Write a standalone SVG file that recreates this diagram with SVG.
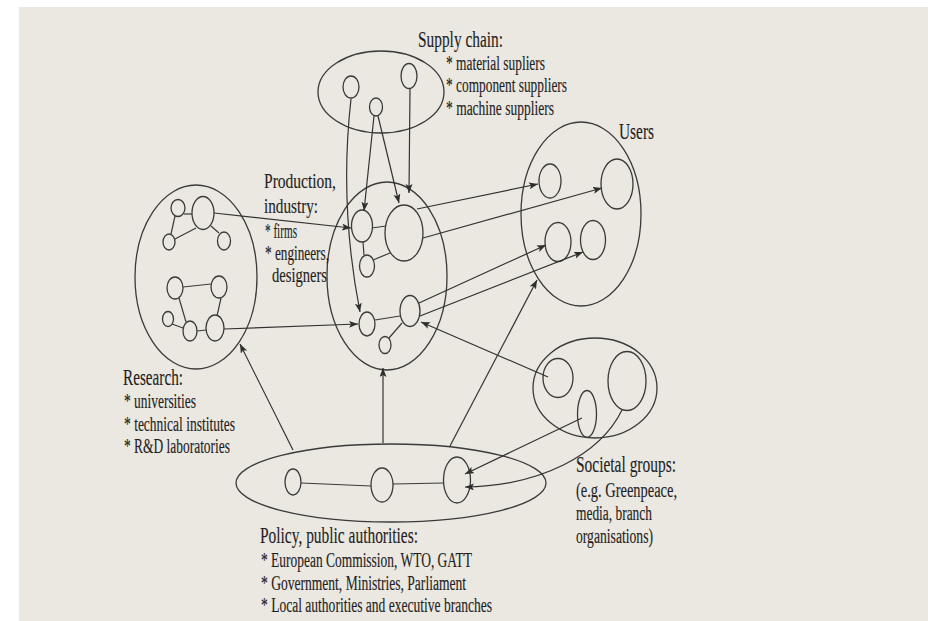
<svg xmlns="http://www.w3.org/2000/svg" width="928" height="621" viewBox="0 0 928 621">
  <defs>
    <marker id="arrow" markerUnits="userSpaceOnUse" markerWidth="10" markerHeight="8" refX="9" refY="3.5" orient="auto">
      <path d="M0,0 L9,3.5 L0,7 L2,3.5 z" fill="#2e2e2e"/>
    </marker>
  </defs>
  <style>
    .grp { fill: none; stroke: #3a3a3a; stroke-width: 1.3; }
    .nd { fill: none; stroke: #3a3a3a; stroke-width: 1.3; }
    .ln { fill: none; stroke: #3a3a3a; stroke-width: 1.2; }
    .ar { fill: none; stroke: #333; stroke-width: 1.2; marker-end: url(#arrow); }
    text { font-family: "Liberation Serif", "Times New Roman", serif; fill: #1f1f1f; stroke: #1f1f1f; stroke-width: 0.15; }
    .hd { font-size: 24px; }
    .hs { font-size: 21px; }
    .it { font-size: 20.5px; }
  </style>

  <!-- page -->
  <rect x="0" y="0" width="928" height="621" fill="#ffffff"/>
  <rect x="19" y="7" width="909" height="614" fill="#ebe8e1"/>

  <!-- Supply chain -->
  <g id="supply">
    <ellipse class="grp" cx="381" cy="92" rx="63" ry="41"/>
    <ellipse class="nd" cx="351" cy="87" rx="8" ry="11"/>
    <ellipse class="nd" cx="376" cy="107" rx="6.5" ry="9"/>
    <ellipse class="nd" cx="409" cy="76" rx="8" ry="12.5"/>
    <text class="hd" x="418" y="47" textLength="85" lengthAdjust="spacingAndGlyphs">Supply chain:</text>
    <text class="it" x="446" y="70" textLength="99" lengthAdjust="spacingAndGlyphs">* material supliers</text>
    <text class="it" x="446" y="92" textLength="121" lengthAdjust="spacingAndGlyphs">* component suppliers</text>
    <text class="it" x="446" y="115" textLength="108" lengthAdjust="spacingAndGlyphs">* machine suppliers</text>
  </g>

  <!-- Users -->
  <g id="users">
    <ellipse class="grp" cx="581" cy="214" rx="60" ry="92"/>
    <ellipse class="nd" cx="550" cy="181" rx="11" ry="17"/>
    <ellipse class="nd" cx="617" cy="184" rx="16" ry="25"/>
    <ellipse class="nd" cx="558" cy="242" rx="13" ry="19.5"/>
    <ellipse class="nd" cx="593" cy="240" rx="12.5" ry="19.5"/>
    <text class="hd" x="619" y="139" textLength="35" lengthAdjust="spacingAndGlyphs">Users</text>
  </g>

  <!-- Production, industry -->
  <g id="production">
    <ellipse class="grp" cx="387" cy="276" rx="60" ry="94"/>
    <line class="ln" x1="372" y1="228" x2="386" y2="226"/>
    <line class="ln" x1="363" y1="242" x2="364" y2="255"/>
    <line class="ln" x1="373" y1="260" x2="390" y2="253"/>
    <line class="ln" x1="375" y1="320" x2="400" y2="316"/>
    <line class="ln" x1="402" y1="323" x2="389" y2="338"/>
    <ellipse class="nd" cx="362" cy="226" rx="10.5" ry="16"/>
    <ellipse class="nd" cx="404" cy="233" rx="19" ry="28"/>
    <ellipse class="nd" cx="367" cy="266" rx="7.5" ry="11"/>
    <ellipse class="nd" cx="367" cy="324" rx="8" ry="12"/>
    <ellipse class="nd" cx="410" cy="311" rx="10" ry="15.5"/>
    <ellipse class="nd" cx="385" cy="345" rx="6" ry="8.5"/>
    <text class="hs" x="264" y="188" textLength="72" lengthAdjust="spacingAndGlyphs">Production,</text>
    <text class="hs" x="264" y="213" textLength="54" lengthAdjust="spacingAndGlyphs">industry:</text>
    <text class="it" x="265" y="238" textLength="32" lengthAdjust="spacingAndGlyphs">* firms</text>
    <text class="it" x="265" y="260" textLength="64" lengthAdjust="spacingAndGlyphs">* engineers,</text>
    <text class="it" x="272" y="282" textLength="55" lengthAdjust="spacingAndGlyphs">designers</text>
  </g>

  <!-- Research -->
  <g id="research">
    <ellipse class="grp" cx="196" cy="277" rx="61" ry="92"/>
    <line class="ln" x1="184" y1="214" x2="192" y2="214"/>
    <line class="ln" x1="175" y1="216" x2="171" y2="234"/>
    <line class="ln" x1="175" y1="239" x2="196" y2="228"/>
    <line class="ln" x1="211" y1="226" x2="219" y2="233"/>
    <line class="ln" x1="183" y1="287" x2="211" y2="284"/>
    <line class="ln" x1="179" y1="298" x2="186" y2="322"/>
    <line class="ln" x1="172" y1="324" x2="183" y2="328"/>
    <line class="ln" x1="197" y1="331" x2="206" y2="330"/>
    <line class="ln" x1="217" y1="316" x2="221" y2="298"/>
    <ellipse class="nd" cx="178" cy="208" rx="7" ry="8.5"/>
    <ellipse class="nd" cx="203" cy="213" rx="11" ry="16.5"/>
    <ellipse class="nd" cx="169" cy="242" rx="6" ry="8"/>
    <ellipse class="nd" cx="224" cy="241" rx="6.5" ry="9"/>
    <ellipse class="nd" cx="175" cy="288" rx="8" ry="11"/>
    <ellipse class="nd" cx="219" cy="287" rx="8" ry="11"/>
    <ellipse class="nd" cx="168" cy="319" rx="5.5" ry="7.5"/>
    <ellipse class="nd" cx="190" cy="331" rx="7" ry="10"/>
    <ellipse class="nd" cx="215" cy="328" rx="9" ry="13"/>
    <text class="hd" x="123" y="385" textLength="60" lengthAdjust="spacingAndGlyphs">Research:</text>
    <text class="it" x="124" y="408" textLength="72" lengthAdjust="spacingAndGlyphs">* universities</text>
    <text class="it" x="124" y="431" textLength="111" lengthAdjust="spacingAndGlyphs">* technical institutes</text>
    <text class="it" x="124" y="453" textLength="106" lengthAdjust="spacingAndGlyphs">* R&amp;D laboratories</text>
  </g>

  <!-- Societal groups -->
  <g id="societal">
    <ellipse class="grp" cx="595" cy="388" rx="62" ry="50"/>
    <ellipse class="nd" cx="558" cy="378" rx="15" ry="19.5"/>
    <ellipse class="nd" cx="627" cy="381" rx="19" ry="29.5"/>
    <ellipse class="nd" cx="587" cy="414" rx="9.5" ry="23.5"/>
    <text class="hd" x="576" y="472" textLength="100" lengthAdjust="spacingAndGlyphs">Societal groups:</text>
    <text class="it" x="576" y="497" textLength="101" lengthAdjust="spacingAndGlyphs">(e.g. Greenpeace,</text>
    <text class="it" x="576" y="520" textLength="76" lengthAdjust="spacingAndGlyphs">media, branch</text>
    <text class="it" x="576" y="543" textLength="77" lengthAdjust="spacingAndGlyphs">organisations)</text>
  </g>

  <!-- Policy, public authorities -->
  <g id="policy">
    <ellipse class="grp" cx="391" cy="483" rx="155" ry="39"/>
    <line class="ln" x1="301" y1="483" x2="371" y2="486"/>
    <line class="ln" x1="393" y1="484" x2="444" y2="483"/>
    <ellipse class="nd" cx="293" cy="482" rx="8" ry="13"/>
    <ellipse class="nd" cx="382" cy="485" rx="11" ry="17"/>
    <ellipse class="nd" cx="457" cy="480" rx="13.5" ry="23"/>
    <text class="hd" x="260" y="543" textLength="158" lengthAdjust="spacingAndGlyphs">Policy, public authorities:</text>
    <text class="it" x="261" y="567" textLength="211" lengthAdjust="spacingAndGlyphs">* European Commission, WTO, GATT</text>
    <text class="it" x="261" y="590" textLength="205" lengthAdjust="spacingAndGlyphs">* Government, Ministries, Parliament</text>
    <text class="it" x="261" y="612" textLength="231" lengthAdjust="spacingAndGlyphs">* Local authorities and executive branches</text>
  </g>

  <!-- connectors -->
  <g id="connectors">
    <path class="ar" d="M351,99 Q339,205 360,312"/>
    <path class="ar" d="M374,116 L364,211"/>
    <path class="ar" d="M378,116 L399,203"/>
    <path class="ar" d="M410,89 L409,193"/>
    <path class="ar" d="M214,213 L351,228"/>
    <path class="ar" d="M224,329 L358,324"/>
    <path class="ar" d="M417,209 L538,184"/>
    <path class="ar" d="M423,238 L602,188"/>
    <path class="ar" d="M419,303 L546,245"/>
    <path class="ar" d="M420,316 L583,252"/>
    <path class="ar" d="M548,377 L421,322"/>
    <path class="ar" d="M582,418 L465,474"/>
    <path class="ar" d="M622,410 C600,455 540,486 465,487"/>
    <path class="ar" d="M293,450 L240,344"/>
    <path class="ar" d="M383,443 L383,368"/>
    <path class="ar" d="M450,446 L537,280"/>
  </g>
</svg>
